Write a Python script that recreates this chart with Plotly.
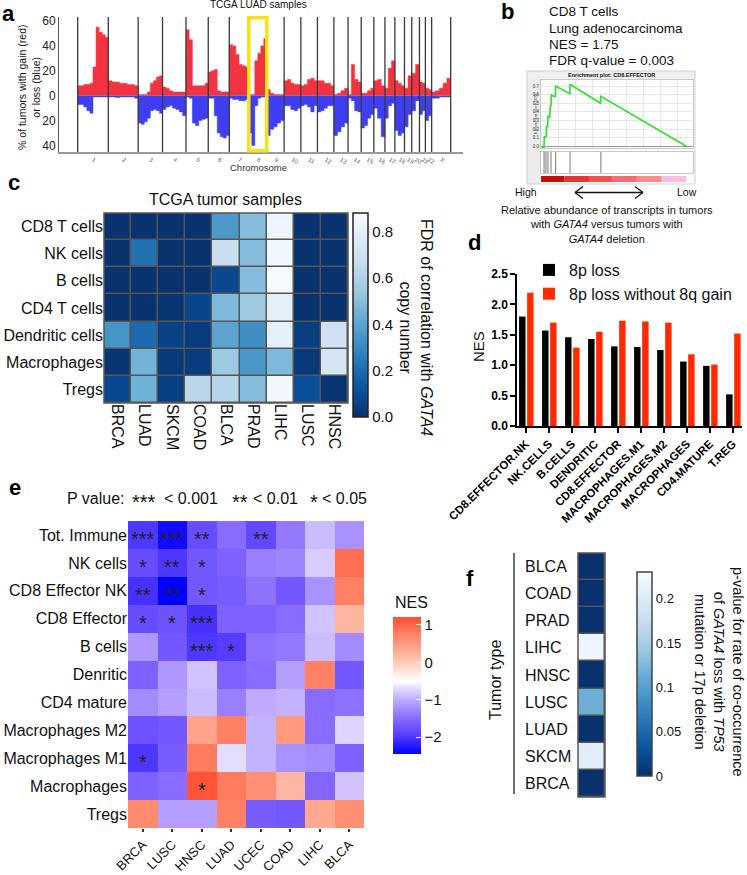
import plotly.graph_objects as go

W, H = 747, 875
def px(x): return x / W
def py(y): return 1 - y / H
FONT = "Liberation Sans, Arial, Helvetica, sans-serif"

# ---------------- panel a: copy-number profile (TCGA LUAD) ----------------
CHROMS = ["1","2","3","4","5","6","7","8","9","10","11","12","13","14","15","16","17","18","19","20","21","22","X"]
CHROM_LEN_MB = [249,243,198,191,181,171,159,146,141,136,135,134,115,107,103,90,81,78,59,63,48,51,155]
GAIN = {
    "1": [8, 8, 9, 9, 10, 23, 55, 51, 49, 47],
    "2": [12, 11, 11, 10, 10, 9, 9, 8],
    "3": [1, 1, 1, 3, 10, 12, 15, 16],
    "4": [7, 6, 4, 3, 3, 3, 3],
    "5": [53, 45, 8, 8, 8, 8, 10],
    "6": [19, 20, 21, 4, 3, 3, 3],
    "7": [41, 40, 33, 25, 24, 23],
    "8": [1, 1, 28, 34, 40, 46],
    "9": [5, 2, 1, 1, 1],
    "10": [12, 13, 10, 9, 9],
    "11": [8, 9, 13, 14, 12],
    "12": [12, 12, 10, 10, 8],
    "13": [1, 2, 4, 6],
    "14": [1, 25, 13, 11],
    "15": [2, 2, 4, 6],
    "16": [12, 13, 8],
    "17": [6, 22, 28],
    "18": [12, 10, 8],
    "19": [6, 16],
    "20": [18, 25],
    "21": [11, 10],
    "22": [6, 5],
    "X": [3, 4, 6, 10, 14],
}
LOSS = {
    "1": [7, 7, 9, 12, 14, 1, 1, 1, 1, 1],
    "2": [1, 1, 1.5, 1, 1, 1, 1, 2],
    "3": [22, 23, 21, 18, 12, 11, 12, 14],
    "4": [11, 9, 8, 10, 11, 13, 16],
    "5": [1, 2, 22, 24, 20, 19, 18],
    "6": [2, 2, 16, 30, 33, 34, 32],
    "7": [2, 3, 3, 4, 4, 3],
    "8": [30, 40, 8, 2, 1, 1],
    "9": [32, 27, 25, 22, 20],
    "10": [8, 8, 11, 12, 10],
    "11": [8, 7, 9, 13, 8],
    "12": [13, 12, 10, 8, 8],
    "13": [32, 29, 25, 22],
    "14": [2, 4, 12, 13],
    "15": [26, 24, 18, 15],
    "16": [10, 18, 33],
    "17": [18, 8, 6],
    "18": [28, 32, 30],
    "19": [25, 15],
    "20": [12, 4],
    "21": [15, 12],
    "22": [20, 16],
    "X": [2, 2, 1, 1, 1],
}
A_YTICKS = [-40, -20, 0, 20, 40, 60]
A_YTICKTEXT = ["40", "20", "0", "20", "40", "60"]
HIGHLIGHT_CHROM = "8"

# ---------------- panel b: GSEA enrichment plot ----------------
ES_RANK = [0, 2.0, 2.3, 3.6, 3.8, 4.6, 4.8, 6.0, 6.4, 6.9, 7.1, 8.7, 9.9, 10.1, 19.8, 20.0, 41.0, 41.2, 100]
ES_VAL = [0, -0.02, 0.11, 0.11, 0.23, 0.23, 0.35, 0.34, 0.47, 0.47, 0.60, 0.58, 0.58, 0.70, 0.61, 0.72, 0.50, 0.58, 0.0]
HIT_RANK = [2.1, 3.4, 4.8, 6.9, 10.1, 20.0, 41.2]
BAND_EDGES = [0, 16, 33, 49, 66, 83, 100]
BAND_COLORS = ["#c90b0b", "#e33535", "#f05252", "#f46a78", "#f98b8b", "#f9bbe0"]
B_TEXT = ["CD8 T cells", "Lung adenocarcinoma", "NES = 1.75", "FDR q-value = 0.003"]

# ---------------- panel c: FDR heatmap ----------------
C_COLS = ["BRCA", "LUAD", "SKCM", "COAD", "BLCA", "PRAD", "LIHC", "LUSC", "HNSC"]
C_ROWS = ["CD8 T cells", "NK cells", "B cells", "CD4 T cells", "Dendritic cells", "Macrophages", "Tregs"]
C_FDR = [
    [0.01, 0.01, 0.01, 0.01, 0.36, 0.50, 0.84, 0.01, 0.01],
    [0.01, 0.22, 0.01, 0.01, 0.68, 0.50, 0.85, 0.01, 0.01],
    [0.01, 0.01, 0.01, 0.01, 0.08, 0.50, 0.87, 0.01, 0.01],
    [0.01, 0.01, 0.02, 0.07, 0.48, 0.55, 0.80, 0.01, 0.01],
    [0.34, 0.20, 0.06, 0.04, 0.40, 0.32, 0.80, 0.05, 0.70],
    [0.02, 0.46, 0.03, 0.04, 0.55, 0.35, 0.48, 0.03, 0.72],
    [0.08, 0.45, 0.05, 0.63, 0.62, 0.50, 0.85, 0.10, 0.02],
]
C_CBAR_TICKS = [0.0, 0.2, 0.4, 0.6, 0.8]

# ---------------- panel d: NES bars ----------------
D_CATS = ["CD8.EFFECTOR.NK", "NK.CELLS", "B.CELLS", "DENDRITIC", "CD8.EFFECTOR",
          "MACROPHAGES.M1", "MACROPHAGES.M2", "MACROPHAGES", "CD4.MATURE", "T.REG"]
D_8P_LOSS = [1.80, 1.57, 1.46, 1.43, 1.31, 1.30, 1.25, 1.06, 0.99, 0.52]
D_8P_LOSS_NO_8Q = [2.19, 1.70, 1.29, 1.55, 1.73, 1.72, 1.70, 1.18, 1.01, 1.52]
D_SERIES = ["8p loss", "8p loss without 8q gain"]

# ---------------- panel e: NES heatmap ----------------
E_COLS = ["BRCA", "LUSC", "HNSC", "LUAD", "UCEC", "COAD", "LIHC", "BLCA"]
E_ROWS = ["Tot. Immune", "NK cells", "CD8 Effector NK", "CD8 Effector", "B cells", "Denritic",
          "CD4 mature", "Macrophages M2", "Macrophages M1", "Macrophages", "Tregs"]
E_NES = [
    [-2.00, -2.35, -1.80, -1.50, -1.85, -1.40, -0.90, -1.20],
    [-1.80, -2.00, -1.70, -1.60, -1.35, -1.30, -0.80, 0.90],
    [-2.05, -2.45, -1.70, -1.65, -1.45, -1.70, -1.20, 0.75],
    [-1.80, -1.75, -2.05, -1.60, -1.60, -1.50, -0.85, 0.20],
    [-1.15, -1.70, -2.00, -1.95, -1.45, -1.40, -0.90, -1.25],
    [-1.60, -1.15, -0.85, -1.60, -1.50, -1.10, 0.75, -1.70],
    [-1.25, -1.10, -0.90, -1.35, -1.00, -0.95, -1.50, -1.45],
    [-1.75, -1.70, 0.40, 0.75, -0.95, 0.50, -1.50, -0.75],
    [-2.00, -1.65, 0.80, -0.70, -0.95, -1.20, -1.25, -1.60],
    [-1.60, -1.50, 1.15, 0.80, 0.60, 0.20, -1.55, -0.85],
    [0.65, -1.10, -1.10, 0.75, -1.65, -1.70, 0.35, 0.60],
]
# significance level per cell: 3 = p<0.001, 2 = p<0.01, 1 = p<0.05, 0 = ns
E_SIG = [
    [3, 3, 2, 0, 2, 0, 0, 0],
    [1, 2, 1, 0, 0, 0, 0, 0],
    [2, 2, 1, 0, 0, 0, 0, 0],
    [1, 1, 3, 0, 0, 0, 0, 0],
    [0, 0, 3, 1, 0, 0, 0, 0],
    [0, 0, 0, 0, 0, 0, 0, 0],
    [0, 0, 0, 0, 0, 0, 0, 0],
    [0, 0, 0, 0, 0, 0, 0, 0],
    [1, 0, 0, 0, 0, 0, 0, 0],
    [0, 0, 1, 0, 0, 0, 0, 0],
    [0, 0, 0, 0, 0, 0, 0, 0],
]
E_CBAR_TICKS = [1, 0, -1, -2]
E_CBAR_TEXT = ["1", "0", "−1", "−2"]

# ---------------- panel f: p-value heatmap ----------------
F_TYPES = ["BLCA", "COAD", "PRAD", "LIHC", "HNSC", "LUSC", "LUAD", "SKCM", "BRCA"]
F_P = [0.001, 0.001, 0.001, 0.22, 0.001, 0.115, 0.001, 0.205, 0.001]
F_CBAR_TICKS = [0, 0.05, 0.1, 0.15, 0.2]
F_CBAR_TEXT = ["0", "0.05", "0.1", "0.15", "0.2"]

BLUES_R = [[0.0, "rgb(8,48,107)"], [0.125, "rgb(8,81,156)"], [0.25, "rgb(33,113,181)"],
           [0.375, "rgb(66,146,198)"], [0.5, "rgb(107,174,214)"], [0.625, "rgb(158,202,225)"],
           [0.75, "rgb(198,219,239)"], [0.875, "rgb(222,235,247)"], [1.0, "rgb(247,251,255)"]]
E_ZMIN, E_ZMAX, E_MID = -2.45, 1.21, -0.5
m = (E_MID - E_ZMIN) / (E_ZMAX - E_ZMIN)
E_SCALE = [[0.0, "rgb(0,0,255)"], [m * 0.25, "rgb(85,60,255)"], [m * 0.5, "rgb(140,110,255)"],
           [m * 0.75, "rgb(192,172,255)"], [m, "rgb(255,255,255)"],
           [m + (1 - m) * 0.35, "rgb(255,192,172)"], [m + (1 - m) * 0.7, "rgb(255,135,105)"],
           [1.0, "rgb(255,77,50)"]]

RED = "#f3333f"
BLUE = "#3d3ff0"

fig = go.Figure()

# ---- panel a traces
gx, gy, lx, ly, starts = [], [], [], [], []
pos = 0
for name, length in zip(CHROMS, CHROM_LEN_MB):
    starts.append(pos)
    g, l = GAIN[name], LOSS[name]
    for i, v in enumerate(g):
        gx.append(pos + length * i / len(g)); gy.append(v)
    for i, v in enumerate(l):
        lx.append(pos + length * i / len(l)); ly.append(-v)
    pos += length
gx.append(pos); gy.append(gy[-1]); lx.append(pos); ly.append(ly[-1])
total = pos
boundaries = starts + [total]
centers = [s + L / 2 for s, L in zip(starts, CHROM_LEN_MB)]

fig.add_trace(go.Scatter(x=gx, y=gy, mode="lines", line=dict(shape="hv", width=0.5, color=RED),
                         fill="tozeroy", fillcolor=RED, xaxis="x", yaxis="y", showlegend=False, hoverinfo="skip"))
fig.add_trace(go.Scatter(x=lx, y=ly, mode="lines", line=dict(shape="hv", width=0.5, color=BLUE),
                         fill="tozeroy", fillcolor=BLUE, xaxis="x", yaxis="y", showlegend=False, hoverinfo="skip"))

# ---- panel b traces
fig.add_trace(go.Scatter(x=ES_RANK, y=ES_VAL, mode="lines", line=dict(color="#2de02d", width=1.6),
                         xaxis="x2", yaxis="y2", showlegend=False, hoverinfo="skip"))
hx, hy = [], []
for r in HIT_RANK:
    hx += [r, r, None]; hy += [0, 1, None]
fig.add_trace(go.Scatter(x=hx, y=hy, mode="lines", line=dict(color="#555555", width=0.8),
                         xaxis="x3", yaxis="y3", showlegend=False, hoverinfo="skip"))
for s, e, c in zip(BAND_EDGES[:-1], BAND_EDGES[1:], BAND_COLORS):
    fig.add_trace(go.Bar(y=[0], x=[e - s], base=[s], width=[1], orientation="h", marker=dict(color=c, line=dict(width=0)),
                         xaxis="x4", yaxis="y4", showlegend=False, hoverinfo="skip"))

# ---- panel c heatmap
fig.add_trace(go.Heatmap(z=C_FDR, x=C_COLS, y=C_ROWS, colorscale=BLUES_R, zmin=0, zmax=0.88,
                         xgap=1.5, ygap=1.5, xaxis="x5", yaxis="y5", hoverinfo="skip",
                         colorbar=dict(x=px(353), xanchor="left", xref="paper", y=py(213), yanchor="top", yref="paper",
                                       len=204 / H, lenmode="fraction", thickness=15, thicknessmode="pixels",
                                       xpad=0, ypad=0, outlinecolor="#222", outlinewidth=1.5,
                                       tickvals=C_CBAR_TICKS, ticktext=[f"{t:.1f}" for t in C_CBAR_TICKS],
                                       ticks="", tickfont=dict(size=15, family=FONT, color="#111"))))

# ---- panel d bars
fig.add_trace(go.Bar(x=D_CATS, y=D_8P_LOSS, name=D_SERIES[0], marker=dict(color="#000000", line=dict(width=0)),
                     width=0.28, offset=-0.29, xaxis="x6", yaxis="y6", hoverinfo="skip"))
fig.add_trace(go.Bar(x=D_CATS, y=D_8P_LOSS_NO_8Q, name=D_SERIES[1], marker=dict(color="#ff2a00", line=dict(width=0)),
                     width=0.28, offset=0.06, xaxis="x6", yaxis="y6", hoverinfo="skip"))

# ---- panel e heatmap
fig.add_trace(go.Heatmap(z=E_NES, x=E_COLS, y=E_ROWS,
                         colorscale=E_SCALE, zmin=E_ZMIN, zmax=E_ZMAX, xaxis="x7", yaxis="y7", hoverinfo="skip",
                         colorbar=dict(x=px(393), xanchor="left", xref="paper", y=py(617), yanchor="top", yref="paper",
                                       len=137 / H, lenmode="fraction", thickness=28, thicknessmode="pixels",
                                       xpad=0, ypad=0, outlinewidth=0,
                                       tickvals=E_CBAR_TICKS, ticktext=E_CBAR_TEXT, ticks="inside",
                                       tickcolor="white", ticklen=5, tickfont=dict(size=15, family=FONT, color="#111"))))

# ---- panel f heatmap
fig.add_trace(go.Heatmap(z=[[v] for v in F_P], x=["p"], y=F_TYPES, colorscale=BLUES_R, zmin=0, zmax=0.23,
                         xgap=1.5, ygap=1.5, xaxis="x8", yaxis="y8", hoverinfo="skip",
                         colorbar=dict(x=px(637), xanchor="left", xref="paper", y=py(572), yanchor="top", yref="paper",
                                       len=204 / H, lenmode="fraction", thickness=15, thicknessmode="pixels",
                                       xpad=0, ypad=0, outlinecolor="#444", outlinewidth=1.5,
                                       tickvals=F_CBAR_TICKS, ticktext=F_CBAR_TEXT, ticks="",
                                       tickfont=dict(size=13, family=FONT, color="#111"))))

# ---------------- layout ----------------
hidden = dict(showgrid=False, zeroline=False, showticklabels=False, ticks="", showline=False)
layout = dict(
    width=W, height=H, margin=dict(l=0, r=0, t=0, b=0, autoexpand=False),
    paper_bgcolor="white", plot_bgcolor="white",
    font=dict(family=FONT, color="#111"),
    barmode="overlay",
    showlegend=True,
    legend=dict(x=px(529), y=py(253), xanchor="left", yanchor="top", font=dict(size=16, family=FONT, color="#111"),
                bgcolor="rgba(0,0,0,0)", itemwidth=30, tracegroupgap=0),
    # a
    xaxis=dict(domain=[px(59), px(463)], anchor="y", range=[-152, 3134], showgrid=False, zeroline=False,
               showline=True, linecolor="#999999", linewidth=2, tickvals=centers, ticktext=CHROMS, ticks="",
               tickfont=dict(size=6, color="#666666", family=FONT)),
    yaxis=dict(domain=[py(152), py(17)], anchor="x", range=[-45.2, 63.2], showgrid=False, zeroline=False,
               showline=True, linecolor="#555555", linewidth=1, tickvals=A_YTICKS, ticktext=A_YTICKTEXT,
               ticks="", tickfont=dict(size=12, color="#222", family=FONT)),
    # b
    xaxis2=dict(domain=[px(541), px(693)], anchor="y2", range=[0, 104.6], showgrid=True, gridcolor="#e6e6e6",
                tick0=0, dtick=11.76, showticklabels=False, ticks="", zeroline=False, showline=True, mirror=True,
                linecolor="#c8c8c8", linewidth=1),
    yaxis2=dict(domain=[py(148), py(80)], anchor="x2", range=[-0.02, 0.77], showgrid=True, gridcolor="#e6e6e6",
                dtick=0.1, tickformat=".1f", tickfont=dict(size=4.5, color="#333"), ticks="", zeroline=True,
                zerolinecolor="#999999", zerolinewidth=0.8, showline=True, mirror=True, linecolor="#c8c8c8", linewidth=1),
    xaxis3=dict(domain=[px(541), px(693)], anchor="y3", range=[0, 104.6], showgrid=False, showticklabels=False,
                ticks="", zeroline=False, showline=True, mirror=True, linecolor="#c8c8c8", linewidth=1),
    yaxis3=dict(domain=[py(173), py(152)], anchor="x3", range=[0, 1], showgrid=False, showticklabels=False,
                ticks="", zeroline=False, showline=True, mirror=True, linecolor="#c8c8c8", linewidth=1),
    xaxis4=dict(domain=[px(541), px(693)], anchor="y4", range=[0, 104.6], **hidden),
    yaxis4=dict(domain=[py(182), py(176)], anchor="x4", range=[-0.5, 0.5], **hidden),
    # c
    xaxis5=dict(domain=[px(104), px(348)], anchor="y5", showgrid=False, zeroline=False, ticks="", tickangle=90,
                tickfont=dict(size=16, family=FONT, color="#111"), showline=False),
    yaxis5=dict(domain=[py(403), py(213)], anchor="x5", autorange="reversed", showgrid=False, zeroline=False,
                ticks="", tickfont=dict(size=16, family=FONT, color="#111"), showline=False),
    # d
    xaxis6=dict(domain=[px(517), px(742)], anchor="y6", range=[-0.38, 9.4], showgrid=False, zeroline=False,
                showline=True, linecolor="#000", linewidth=1.5, ticks="outside", ticklen=5, tickwidth=1.5,
                tickcolor="#000", tickangle=-45, tickfont=dict(size=11.5, family=FONT, color="#000", weight="bold")),
    yaxis6=dict(domain=[py(426), py(274)], anchor="x6", range=[0, 2.5], showgrid=False, zeroline=False,
                showline=True, linecolor="#000", linewidth=1.5, ticks="outside", ticklen=5, tickwidth=1.5,
                tickcolor="#000", tickvals=[0, 0.5, 1, 1.5, 2, 2.5], tickformat=".1f",
                tickfont=dict(size=12, family=FONT, color="#000", weight="bold")),
    # e
    xaxis7=dict(domain=[px(128), px(364)], anchor="y7", showgrid=False, zeroline=False, showline=False,
                ticks="outside", ticklen=3, tickwidth=1.5, tickcolor="#333", tickangle=-45,
                tickfont=dict(size=13, family=FONT, color="#111")),
    yaxis7=dict(domain=[py(828), py(518)], anchor="x7", autorange="reversed", showgrid=False, zeroline=False,
                showline=False, ticks="", tickfont=dict(size=16, family=FONT, color="#111")),
    # f
    xaxis8=dict(domain=[px(578), px(605)], anchor="y8", **hidden),
    yaxis8=dict(domain=[py(797), py(553)], anchor="x8", autorange="reversed", **hidden),
)
for k in list(layout):
    if k.startswith("xaxis") or k.startswith("yaxis"):
        layout[k]["automargin"] = False
fig.update_layout(**layout)

shapes = []
# a: chromosome boundary lines and highlight box
for b in boundaries:
    shapes.append(dict(type="line", xref="x", yref="y domain", x0=b, x1=b, y0=0, y1=1,
                       line=dict(color="#3a3a3a", width=1.3), layer="above"))
hi = CHROMS.index(HIGHLIGHT_CHROM)
shapes.append(dict(type="rect", xref="x", yref="y domain", x0=starts[hi], x1=starts[hi] + CHROM_LEN_MB[hi],
                   y0=0.01, y1=0.995, line=dict(color="#f5e21a", width=3.5), layer="above"))
# b: enrichment plot frame
shapes.append(dict(type="rect", xref="paper", yref="paper", x0=px(527), x1=px(540), y0=py(184), y1=py(71),
                   fillcolor="#ececec", line=dict(width=0), layer="below"))
shapes.append(dict(type="rect", xref="paper", yref="paper", x0=px(527), x1=px(695), y0=py(79), y1=py(71),
                   fillcolor="#f0f0f0", line=dict(width=0), layer="below"))
shapes.append(dict(type="rect", xref="paper", yref="paper", x0=px(527), x1=px(695), y0=py(184), y1=py(71),
                   line=dict(color="#cfcfcf", width=1), layer="above"))
# b: double arrow
for seg in [(575, 192.5, 643, 192.5), (575, 192.5, 583, 186.5), (575, 192.5, 583, 198.5),
            (643, 192.5, 635, 186.5), (643, 192.5, 635, 198.5)]:
    shapes.append(dict(type="line", xref="paper", yref="paper", x0=px(seg[0]), y0=py(seg[1]),
                       x1=px(seg[2]), y1=py(seg[3]), line=dict(color="#111", width=1.4)))
# c, f: cell borders
for xa, ya in [("x5", "y5"), ("x8", "y8")]:
    shapes.append(dict(type="rect", xref=f"{xa} domain", yref=f"{ya} domain", x0=0, x1=1, y0=0, y1=1,
                       fillcolor="#555555", line=dict(width=0), layer="below"))
    shapes.append(dict(type="rect", xref=f"{xa} domain", yref=f"{ya} domain", x0=0, x1=1, y0=0, y1=1,
                       line=dict(color="#555555", width=1.5), layer="above"))
# f: left axis line
shapes.append(dict(type="line", xref="paper", yref="paper", x0=px(514), x1=px(514), y0=py(553), y1=py(794),
                   line=dict(color="#222", width=1.3)))
fig.update_layout(shapes=shapes)

ann = []
def A(x, y, text, size, xanchor="center", yanchor="middle", angle=0, bold=False, color="#111", align="center",
      family=FONT, yshift=0):
    ann.append(dict(x=px(x), y=py(y), xref="paper", yref="paper", text=text, showarrow=False,
                    xanchor=xanchor, yanchor=yanchor, textangle=angle, align=align, yshift=yshift,
                    font=dict(size=size, color=color, family=family, weight="bold" if bold else "normal")))

# panel letters
for letter, x, y in [("a", 0, 13), ("b", 499, 12), ("c", 6, 183), ("d", 466, 243), ("e", 7, 487), ("f", 464, 578)]:
    A(x, y, letter, 22, xanchor="left", bold=True, color="#000")

# a
A(258, 5, "TCGA LUAD samples", 10)
A(258, 168, "Chromosome", 9.5, color="#333")
A(29, 88, "% of tumors with gain (red)<br>or loss (blue)", 10.5, angle=-90)
# b
for i, t in enumerate(B_TEXT):
    A(547, 12 + 16.3 * i, t, 13.5, xanchor="left")
A(611, 75, "<b>Enrichment plot: CD8.EFFECTOR</b>", 5.5)
A(535, 114, "Enrichment score (ES)", 4, angle=-90, color="#444")
A(526, 192, "High", 10.5)
A(687, 192, "Low", 10.5)
A(607, 225, "Relative abundance of transcripts in tumors<br>with <i>GATA4</i> versus tumors with<br><i>GATA4</i> deletion", 11)
# c
A(225, 200, "TCGA tumor samples", 16)
A(416, 327, "FDR of correlation with <i>GATA4</i><br>copy number", 16, angle=90)
# d
A(478, 347, "NES", 15, angle=-90)
# e
STAR = {1: "*", 2: "**", 3: "***"}
A(65, 498, "P value:", 16, xanchor="left")
A(130, 498, STAR[3], 20, xanchor="left", yshift=-4)
A(162, 498, "&lt; 0.001", 16, xanchor="left")
A(230, 498, STAR[2], 20, xanchor="left", yshift=-4)
A(251, 498, "&lt; 0.01", 16, xanchor="left")
A(308, 498, STAR[1], 20, xanchor="left", yshift=-4)
A(320, 498, "&lt; 0.05", 16, xanchor="left")
A(393, 602, "NES", 16, xanchor="left")
for r, row in enumerate(E_SIG):
    for c, s in enumerate(row):
        if s:
            ann.append(dict(x=c, y=r, xref="x7", yref="y7", text=STAR[s], showarrow=False, yshift=-4,
                            font=dict(size=20, family=FONT, color="#222")))
# f
A(719, 672, "p-value for rate of co-occurrence<br>of <i>GATA4</i> loss with <i>TP53</i><br>mutation or 17p deletion", 14.5, angle=90)
A(495, 680, "Tumor type", 16, angle=-90)
for i, t in enumerate(F_TYPES):
    ann.append(dict(x=px(523), xref="paper", y=i, yref="y8", text=t, showarrow=False, xanchor="left",
                    yanchor="middle", font=dict(size=16, family=FONT, color="#111")))
fig.update_layout(annotations=ann)

fig.write_html("out.html", config={"displayModeBar": False},
               post_script="document.body.style.margin='0';document.body.style.overflow='hidden';")
